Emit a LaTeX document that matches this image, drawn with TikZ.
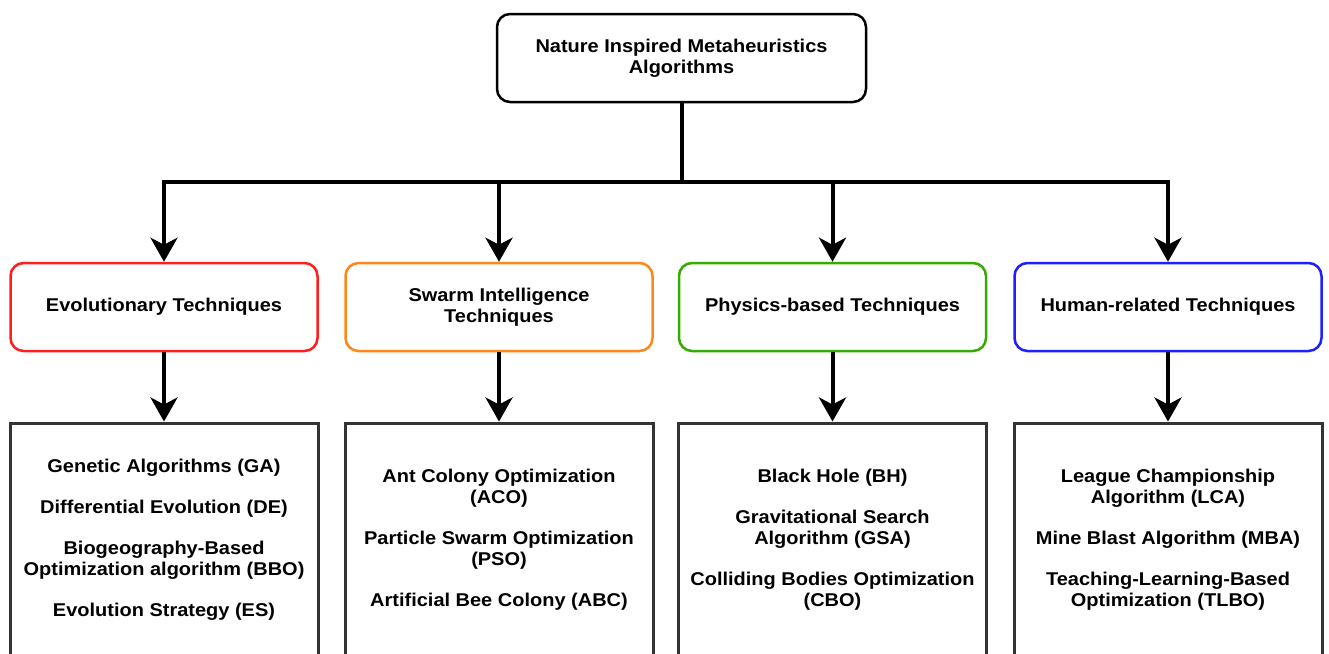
\documentclass[tikz,border=0pt]{standalone}
\usepackage{fontspec}
\setmainfont{Liberation Sans}[FakeStretch=1.08]
\usepackage{tikz}
\usetikzlibrary{arrows.meta, positioning}
\definecolor{evored}{RGB}{255,30,30}
\definecolor{swarmorange}{RGB}{255,135,25}
\definecolor{physgreen}{RGB}{55,170,0}
\definecolor{humanblue}{RGB}{30,30,255}
\tikzset{
	every node/.style={align=center, font=\bfseries\fontsize{18.5}{21}\selectfont},
	topbox/.style={draw=black, line width=2.5pt, rounded corners=13pt, minimum width=369pt, minimum height=88pt},
	techbox/.style={draw=#1, line width=2.5pt, rounded corners=13pt, minimum width=307pt, minimum height=88pt},
	listbox/.style={draw=black!80, line width=3pt, minimum width=308pt, minimum height=234pt},
	link/.style={line width=4pt, -{Stealth[length=24pt, width=27pt, inset=7pt]}}
}

\begin{document}
\begin{tikzpicture}[x=1pt, y=-1pt]
	\useasboundingbox (0,0) rectangle (1329,653);
	\fill[white] (0,0) rectangle (1329,653);
	\clip (0,0) rectangle (1329,653);
	% top of the tree
	\node[topbox] at (681.5,58) (NIMA) {\raisebox{-2pt}{Nature Inspired Metaheuristics}\\\raisebox{-2pt}{Algorithms}};
	\node[techbox=evored] at (164,307) (Evo Tech) {\raisebox{-2pt}{Evolutionary Techniques}};
	\node[techbox=swarmorange] at (499,307) (Swarm Tech) {\raisebox{-2pt}{Swarm Intelligence}\\\raisebox{-2pt}{Techniques}};
	\node[techbox=physgreen] at (832.5,307) (Phys Tech) {\raisebox{-2pt}{Physics-based Techniques}};
	\node[techbox=humanblue] at (1168,307) (Human Tech) {\raisebox{-2pt}{Human-related Techniques}};
	\node[listbox] at (164,540) (Evo List) {Genetic Algorithms (GA)\\[20pt]Differential Evolution (DE)\\[20pt]Biogeography-Based\\Optimization algorithm (BBO)\\[20pt]Evolution Strategy (ES)};
	\node[listbox] at (499,540) (Swarm List) {Ant Colony Optimization\\(ACO)\\[20pt]Particle Swarm Optimization\\(PSO)\\[20pt]Artificial Bee Colony (ABC)};
	\node[listbox] at (832.5,540) (Phys List) {Black Hole (BH)\\[20pt]Gravitational Search\\Algorithm (GSA)\\[20pt]Colliding Bodies Optimization\\(CBO)};
	\node[listbox] at (1168,540) (Human List) {League Championship\\Algorithm (LCA)\\[20pt]Mine Blast Algorithm (MBA)\\[20pt]Teaching-Learning-Based\\Optimization (TLBO)};
	\coordinate (split) at (NIMA.south |- 0,182);
	\draw[line width=4pt] (NIMA.south) -- (split);
	\draw[link, line join=miter]
		(split) -| (Evo Tech.north);
	\draw[link] (split) -| (Swarm Tech.north);
	\draw[link] (split) -| (Phys Tech.north);
	\draw[link, line join=miter] (split) -| (Human Tech.north);
	\draw[link] (Evo Tech) -- (Evo List);
	\draw[link] (Swarm Tech) -- (Swarm List);
	\draw[link] (Phys Tech) -- (Phys List);
	\draw[link] (Human Tech) -- (Human List);
\end{tikzpicture}
\end{document}
